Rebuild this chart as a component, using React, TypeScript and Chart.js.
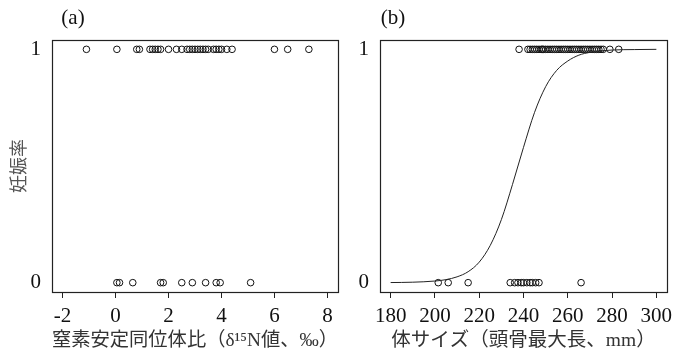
import React, { useEffect, useRef } from "react";
import { Chart, registerables } from "chart.js";
Chart.register(...registerables);

// Panel (a): δ15N values
const pregnantN15 = [-1.1, 0.05, 0.8, 0.9, 1.3, 1.4, 1.5, 1.6, 1.7, 2.0, 2.3, 2.5, 2.7, 2.8, 2.9, 3.0, 3.1, 3.2, 3.3, 3.4, 3.5, 3.7, 3.8, 3.9, 4.0, 4.2, 4.4, 6.0, 6.5, 7.3];
const nonPregnantN15 = [0.05, 0.15, 0.65, 1.7, 1.8, 2.5, 2.9, 3.4, 3.8, 3.95, 5.1];

// Panel (b): skull length (mm)
const pregnantSize = [238, 242, 243, 244, 245, 246, 247, 248, 248.5, 249, 250, 251, 252, 253, 254, 255, 256, 257, 258, 259, 260, 261, 262, 263, 264, 265, 266, 267, 268, 269, 270, 271, 272, 273, 274, 275, 276, 279, 283];
const nonPregnantSize = [201.5, 206, 215, 234, 236, 237.5, 239, 240, 241.5, 243, 244, 245.5, 247, 266];

// Fitted curve
const curveSize = [180, 190, 200, 205, 210, 215, 220, 225, 230, 235, 240, 245, 250, 255, 260, 265, 270, 280, 290, 300];
const curveProb = [0.0005, 0.002, 0.007, 0.013, 0.025, 0.047, 0.088, 0.16, 0.27, 0.42, 0.58, 0.73, 0.84, 0.91, 0.95, 0.975, 0.987, 0.997, 0.999, 1.0];

const n15Ticks = [-2, 0, 2, 4, 6, 8];
const sizeTicks = [180, 200, 220, 240, 260, 280, 300];
const rateTicks = [0, 1];

const yLabel = "妊娠率";
const xLabelA = "窒素安定同位体比（δ¹⁵N値、‰）";
const xLabelB = "体サイズ（頭骨最大長、mm）";

const SERIF = "'Liberation Serif', 'Noto Sans CJK JP'";

const framePlugin = (tag: string, tagOffset: number) => ({
  id: "frameTag",
  afterDraw(chart: any) {
    const { ctx, chartArea: a } = chart;
    ctx.save();
    ctx.strokeStyle = "#222";
    ctx.lineWidth = 1.2;
    ctx.strokeRect(Math.round(a.left) + 0.5, Math.round(a.top) + 0.5, Math.round(a.right - a.left), Math.round(a.bottom - a.top));
    ctx.font = "21px 'Liberation Serif'";
    ctx.fillStyle = "#111";
    ctx.textAlign = "center";
    ctx.textBaseline = "middle";
    ctx.fillText(tag, a.left + tagOffset, 18);
    ctx.restore();
  },
});

const pts = (xs: number[], y: number) => xs.map((x) => ({ x, y }));

function makeConfig(p: {
  datasets: any[];
  xMin: number;
  xMax: number;
  xTicks: number[];
  xLabel: string;
  yWidth: number;
  rightPad: number;
  showYTitle: boolean;
  tag: string;
  tagOffset: number;
}): any {
  return {
    type: "scatter",
    data: { datasets: p.datasets },
    options: {
      responsive: false,
      animation: false,
      events: [],
      layout: { padding: { top: 40, left: 0, right: p.rightPad, bottom: 0 } },
      plugins: { legend: { display: false }, tooltip: { enabled: false } },
      scales: {
        x: {
          type: "linear",
          min: p.xMin,
          max: p.xMax,
          afterFit: (s: any) => { s.height = 68; },
          afterBuildTicks: (s: any) => { s.ticks = p.xTicks.map((v) => ({ value: v })); },
          border: { display: false },
          grid: { display: true, drawOnChartArea: false, drawTicks: true, tickLength: 6, color: "#222", lineWidth: 1 },
          ticks: { color: "#111", padding: 6, maxRotation: 0, autoSkip: false, font: { family: "'Liberation Serif'", size: 21 } },
          title: { display: true, text: p.xLabel, color: "#333", padding: { top: 0, bottom: 7 }, font: { family: SERIF, size: 19.5 } },
        },
        y: {
          type: "linear",
          min: -0.04,
          max: 1.04,
          afterFit: (s: any) => { s.width = p.yWidth; },
          afterBuildTicks: (s: any) => { s.ticks = rateTicks.map((v) => ({ value: v })); },
          border: { display: false },
          grid: { display: false, drawTicks: false },
          ticks: { color: "#111", padding: 11, font: { family: "'Liberation Serif'", size: 21 } },
          title: { display: p.showYTitle, text: yLabel, color: "#555", padding: { top: 7, bottom: 0 }, font: { family: "'Noto Sans CJK JP'", size: 18 } },
        },
      },
    },
    plugins: [framePlugin(p.tag, p.tagOffset)],
  };
}

const pointStyle = {
  showLine: false,
  pointRadius: 3.3,
  pointBorderWidth: 1,
  pointBorderColor: "#111",
  pointBackgroundColor: "rgba(0,0,0,0)",
};

export default function App() {
  const refA = useRef<HTMLCanvasElement>(null);
  const refB = useRef<HTMLCanvasElement>(null);

  useEffect(() => {
    const chartA = new Chart(refA.current as HTMLCanvasElement, makeConfig({
      datasets: [
        { ...pointStyle, data: pts(pregnantN15, 1) },
        { ...pointStyle, data: pts(nonPregnantN15, 0) },
      ],
      xMin: -2.4,
      xMax: 8.4,
      xTicks: n15Ticks,
      xLabel: xLabelA,
      yWidth: 52,
      rightPad: 7,
      showYTitle: true,
      tag: "(a)",
      tagOffset: 21,
    }));
    const chartB = new Chart(refB.current as HTMLCanvasElement, makeConfig({
      datasets: [
        {
          showLine: true,
          data: curveSize.map((x, i) => ({ x, y: curveProb[i] })),
          borderColor: "#222",
          borderWidth: 1,
          pointRadius: 0,
          cubicInterpolationMode: "monotone",
        },
        { ...pointStyle, data: pts(pregnantSize, 1) },
        { ...pointStyle, data: pts(nonPregnantSize, 0) },
      ],
      xMin: 175.2,
      xMax: 304.8,
      xTicks: sizeTicks,
      xLabel: xLabelB,
      yWidth: 35,
      rightPad: 18,
      showYTitle: false,
      tag: "(b)",
      tagOffset: 13,
    }));
    return () => { chartA.destroy(); chartB.destroy(); };
  }, []);

  return (
    <div style={{ position: "absolute", left: 0, top: 0, width: 685, height: 360, background: "#fff" }}>
      <canvas ref={refA} width={345} height={360} style={{ position: "absolute", left: 0, top: 0 }} />
      <canvas ref={refB} width={340} height={360} style={{ position: "absolute", left: 345, top: 0 }} />
    </div>
  );
}
